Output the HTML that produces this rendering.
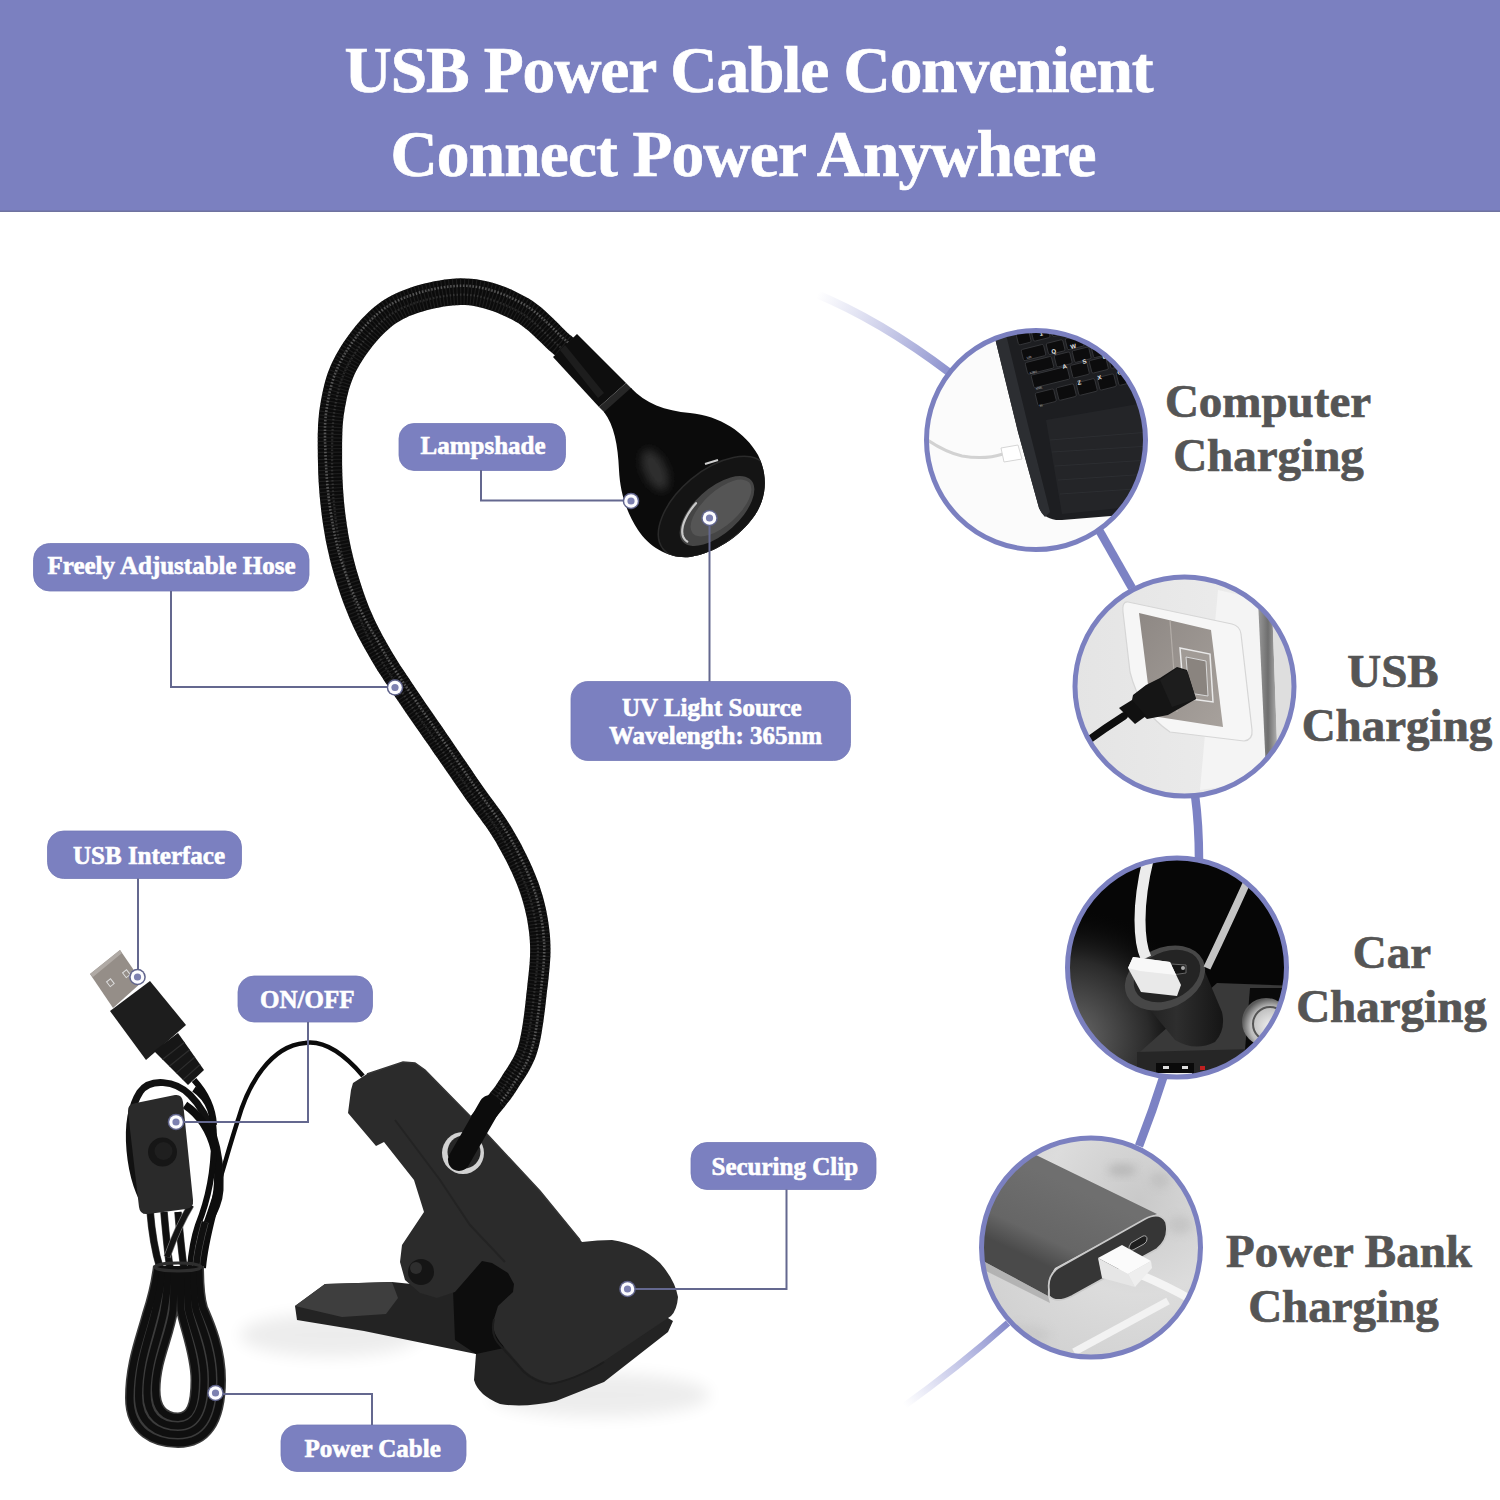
<!DOCTYPE html>
<html><head><meta charset="utf-8">
<style>
html,body{margin:0;padding:0;background:#fff;width:1500px;height:1500px;overflow:hidden}
svg{position:absolute;left:0;top:0;display:block}
.lbl{font-family:"Liberation Serif",serif;font-weight:bold;font-size:25px;fill:#fff;stroke:#fff;stroke-width:0.6px}
.rt{font-family:"Liberation Serif",serif;font-weight:bold;font-size:47px;fill:#555555;stroke:#555555;stroke-width:0.7px}
.hd{font-family:"Liberation Serif",serif;font-weight:bold;font-size:65.4px;fill:#fff;stroke:#fff;stroke-width:0.7px}
</style></head>
<body>
<svg width="1500" height="1500" viewBox="0 0 1500 1500">
<defs>
  <filter id="blur4" x="-50%" y="-50%" width="200%" height="200%"><feGaussianBlur stdDeviation="4"/></filter>
  <filter id="blur8" x="-50%" y="-50%" width="200%" height="200%"><feGaussianBlur stdDeviation="8"/></filter>
  <linearGradient id="arcTop" gradientUnits="userSpaceOnUse" x1="818" y1="294" x2="946" y2="370">
    <stop offset="0" stop-color="#9ea2d6" stop-opacity="0"/>
    <stop offset="0.35" stop-color="#9ea2d6" stop-opacity="0.35"/>
    <stop offset="1" stop-color="#8f94cf" stop-opacity="1"/>
  </linearGradient>
  <linearGradient id="arcBot" gradientUnits="userSpaceOnUse" x1="1006" y1="1325" x2="905" y2="1406">
    <stop offset="0" stop-color="#868bcb" stop-opacity="1"/>
    <stop offset="0.6" stop-color="#a5a9dc" stop-opacity="0.5"/>
    <stop offset="1" stop-color="#b0b3e0" stop-opacity="0"/>
  </linearGradient>
  <clipPath id="c1"><circle cx="1036" cy="440" r="108"/></clipPath>
  <clipPath id="c2"><circle cx="1184.5" cy="686.5" r="108"/></clipPath>
  <clipPath id="c3"><circle cx="1177" cy="967.5" r="108"/></clipPath>
  <clipPath id="c4"><circle cx="1091" cy="1247.5" r="108"/></clipPath>
</defs>

<!-- HEADER -->
<rect x="0" y="0" width="1500" height="212" fill="#7b80c0"/>
<rect x="0" y="210.5" width="1500" height="1.5" fill="#6f739f"/>
<text class="hd" x="344.5" y="92" textLength="809" lengthAdjust="spacing">USB Power Cable Convenient</text>
<text class="hd" x="390.5" y="176" textLength="706" lengthAdjust="spacing">Connect Power Anywhere</text>

<!-- RIGHT ARC CONNECTORS -->
<path d="M814 293 Q880 320 950 373" fill="none" stroke="url(#arcTop)" stroke-width="8"/>
<path d="M1099 530 L1132 588" fill="none" stroke="#7c82c4" stroke-width="8.5"/>
<path d="M1195 795 Q1199 825 1199 860" fill="none" stroke="#7c82c4" stroke-width="8.5"/>
<path d="M1164 1075 Q1153 1110 1139 1146" fill="none" stroke="#7c82c4" stroke-width="8.5"/>
<path d="M1008 1323 Q960 1366 900 1409" fill="none" stroke="url(#arcBot)" stroke-width="6.5"/>

<!-- CIRCLE 1 : computer -->
<g clip-path="url(#c1)">
  <rect x="920" y="325" width="235" height="235" fill="#fbfbfb"/>
  <path d="M993 330 L1160 330 L1160 512 L1062 520 Q1045 521 1039 508 L1018 432 Z" fill="#1d1e21"/>
  <path d="M993 330 L1005 330 L1028 425 L1050 512 L1045 517 Q1041 513 1039 508 L1018 432 Z" fill="#2c2e32"/>
  <path d="M1046 420 L1150 402 L1150 505 L1062 514 Z" fill="#2a2c30" opacity="0.55"/>
  <g stroke="#33363a" stroke-width="0.8" opacity="0.7"><path d="M1050 440 L1150 432"/><path d="M1052 452 L1150 446"/><path d="M1055 466 L1150 460"/><path d="M1058 480 L1150 474"/><path d="M1060 494 L1150 488"/></g>
  <g fill="#0c0c0d" stroke="#3a3b3e" stroke-width="0.8">
    <rect x="1016" y="334.2" width="13" height="11.5" rx="1.5" transform="rotate(-14 1015 334.2)"/>
    <rect x="1031" y="330.5" width="17" height="11.5" rx="1.5" transform="rotate(-14 1030 330.5)"/>
    <rect x="1050" y="325.8" width="17" height="11.5" rx="1.5" transform="rotate(-14 1049 325.8)"/>
    <rect x="1069" y="321.0" width="17" height="11.5" rx="1.5" transform="rotate(-14 1068 321.0)"/>
    <rect x="1088" y="316.2" width="17" height="11.5" rx="1.5" transform="rotate(-14 1087 316.2)"/>
    <rect x="1107" y="311.5" width="17" height="11.5" rx="1.5" transform="rotate(-14 1106 311.5)"/>
    <rect x="1126" y="306.8" width="17" height="11.5" rx="1.5" transform="rotate(-14 1125 306.8)"/>
    <rect x="1021" y="350.0" width="23" height="11.5" rx="1.5" transform="rotate(-14 1020 350.0)"/>
    <rect x="1046" y="343.8" width="17" height="11.5" rx="1.5" transform="rotate(-14 1045 343.8)"/>
    <rect x="1065" y="339.0" width="17" height="11.5" rx="1.5" transform="rotate(-14 1064 339.0)"/>
    <rect x="1084" y="334.2" width="17" height="11.5" rx="1.5" transform="rotate(-14 1083 334.2)"/>
    <rect x="1103" y="329.5" width="17" height="11.5" rx="1.5" transform="rotate(-14 1102 329.5)"/>
    <rect x="1122" y="324.8" width="17" height="11.5" rx="1.5" transform="rotate(-14 1121 324.8)"/>
    <rect x="1025" y="363.0" width="27" height="12" rx="1.5" transform="rotate(-14 1024 363.0)"/>
    <rect x="1054" y="355.8" width="16" height="12" rx="1.5" transform="rotate(-14 1053 355.8)"/>
    <rect x="1072" y="351.2" width="17" height="12" rx="1.5" transform="rotate(-14 1071 351.2)"/>
    <rect x="1091" y="346.5" width="17" height="12" rx="1.5" transform="rotate(-14 1090 346.5)"/>
    <rect x="1110" y="341.8" width="17" height="12" rx="1.5" transform="rotate(-14 1109 341.8)"/>
    <rect x="1129" y="337.0" width="17" height="12" rx="1.5" transform="rotate(-14 1128 337.0)"/>
    <rect x="1031" y="375.5" width="37" height="13" rx="1.5" transform="rotate(-14 1030 375.5)"/>
    <rect x="1070" y="365.8" width="17" height="13" rx="1.5" transform="rotate(-14 1069 365.8)"/>
    <rect x="1089" y="361.0" width="17" height="13" rx="1.5" transform="rotate(-14 1088 361.0)"/>
    <rect x="1108" y="356.2" width="17" height="13" rx="1.5" transform="rotate(-14 1107 356.2)"/>
    <rect x="1127" y="351.5" width="17" height="13" rx="1.5" transform="rotate(-14 1126 351.5)"/>
    <rect x="1035" y="393.5" width="19" height="13" rx="1.5" transform="rotate(-14 1034 393.5)"/>
    <rect x="1056" y="388.2" width="18" height="13" rx="1.5" transform="rotate(-14 1055 388.2)"/>
    <rect x="1076" y="383.2" width="19" height="13" rx="1.5" transform="rotate(-14 1075 383.2)"/>
    <rect x="1097" y="378.0" width="17" height="13" rx="1.5" transform="rotate(-14 1096 378.0)"/>
    <rect x="1116" y="373.2" width="17" height="13" rx="1.5" transform="rotate(-14 1115 373.2)"/>
    <rect x="1135" y="368.5" width="17" height="13" rx="1.5" transform="rotate(-14 1134 368.5)"/>
  </g>
  <g font-family="Liberation Sans" font-size="6" fill="#e6e6e6" font-weight="bold">
    <text x="1052" y="354" transform="rotate(-14 1052 354)">Q</text>
    <text x="1071" y="349" transform="rotate(-14 1071 349)">W</text>
    <text x="1063" y="369" transform="rotate(-14 1063 369)">A</text>
    <text x="1083" y="364" transform="rotate(-14 1083 364)">S</text>
    <text x="1103" y="359" transform="rotate(-14 1103 359)">D</text>
    <text x="1078" y="385" transform="rotate(-14 1078 385)">Z</text>
    <text x="1098" y="380" transform="rotate(-14 1098 380)">X</text>
    <text x="1118" y="375" transform="rotate(-14 1118 375)">C</text>
    <text x="1040" y="336" transform="rotate(-14 1040 336)">1</text>
  </g>
  <g font-family="Liberation Sans" font-size="3.5" fill="#bbb">
    <text x="1027" y="359" transform="rotate(-14 1027 359)">tab</text>
    <text x="1030" y="374" transform="rotate(-14 1030 374)">caps</text>
    <text x="1036" y="390" transform="rotate(-14 1036 390)">shift</text>
    <text x="1040" y="407" transform="rotate(-14 1040 407)">fn</text>
  </g>
  <path d="M926 439 Q945 452 962 456 Q985 460 1003 454" fill="none" stroke="#d2d2d2" stroke-width="3"/>
  <path d="M1001 448 L1018 445 L1022 459 L1004 462 Z" fill="#fff" stroke="#d5d5d5" stroke-width="1"/>
</g>
<circle cx="1036" cy="440" r="109.5" fill="none" stroke="#7b80c0" stroke-width="5"/>

<!-- CIRCLE 2 : usb wall -->
<linearGradient id="c2bg" x1="0" y1="0" x2="1" y2="0"><stop offset="0" stop-color="#e4e4e4"/><stop offset="1" stop-color="#eeeeee"/></linearGradient>
<linearGradient id="c2str" x1="0" y1="0" x2="1" y2="0"><stop offset="0" stop-color="#9a9a9a"/><stop offset="0.5" stop-color="#6e6e6e"/><stop offset="1" stop-color="#b5b5b5"/></linearGradient>
<linearGradient id="c2met" x1="0" y1="0" x2="1" y2="1"><stop offset="0" stop-color="#8e8884"/><stop offset="1" stop-color="#a7a19c"/></linearGradient>
<g clip-path="url(#c2)">
  <rect x="1070" y="570" width="235" height="235" fill="url(#c2bg)"/>
  <path d="M1218 590 L1262 600 L1270 780 L1200 790 Z" fill="#f4f4f4"/>
  <path d="M1258 600 L1272 604 L1278 770 L1266 772 Z" fill="url(#c2str)"/>
  <path d="M1272 604 L1300 610 L1300 780 L1278 770 Z" fill="#dedede"/>
  <path d="M1128 602 L1232 624 Q1240 626 1241 634 L1252 730 Q1253 740 1244 741 L1170 732 Q1140 712 1130 672 L1123 612 Q1122 601 1128 602 Z" fill="#f6f6f6" stroke="#d6d6d6" stroke-width="1.2"/>
  <path d="M1139 613 L1211 630 L1223 727 L1152 716 Z" fill="url(#c2met)"/>
  <path d="M1170 620 L1177 712" stroke="#b3ada8" stroke-width="1.2"/>
  <path d="M1180 648 L1210 654 L1213 702 L1184 698 Z" fill="#a19b96" stroke="#e9e9e9" stroke-width="1.5"/>
  <path d="M1186 657 L1206 661 L1208 696 L1189 693 Z" fill="#8a847f" stroke="#d8d8d8" stroke-width="1"/>
  <path d="M1146 685 L1160 678 L1177 667 L1187 670 L1196 699 L1168 715 L1147 719 L1131 705 L1133 695 Z" fill="#151515"/>
  <path d="M1160 680 L1177 668 L1187 671 L1196 699 L1172 707 Z" fill="#1d1d1d"/>
  <path d="M1119 708 L1132 700 L1146 716 L1135 724 Z" fill="#111"/>
  <path d="M1124 716 Q1105 728 1086 742" fill="none" stroke="#0e0e0e" stroke-width="7.5" stroke-linecap="round"/>
</g>
<circle cx="1184.5" cy="686.5" r="109.5" fill="none" stroke="#7b80c0" stroke-width="5"/>

<!-- CIRCLE 3 : car -->
<radialGradient id="carg" cx="0.05" cy="0.8" r="0.55"><stop offset="0" stop-color="#6a6a6a"/><stop offset="0.6" stop-color="#2a2a2a"/><stop offset="1" stop-color="#080808" stop-opacity="0"/></radialGradient>
<linearGradient id="cyl" x1="0" y1="0" x2="1" y2="0"><stop offset="0" stop-color="#1a1a1a"/><stop offset="0.5" stop-color="#2e2e2e"/><stop offset="1" stop-color="#151515"/></linearGradient>
<radialGradient id="lighter" cx="0.6" cy="0.6" r="0.6"><stop offset="0" stop-color="#f2f2f2"/><stop offset="0.7" stop-color="#bdbdbd"/><stop offset="1" stop-color="#5a5a5a"/></radialGradient>
<g clip-path="url(#c3)">
  <rect x="1060" y="850" width="235" height="235" fill="#060606"/>
  <rect x="1060" y="850" width="235" height="235" fill="url(#carg)"/>
  <path d="M1217 983 L1295 986 L1295 1085 L1137 1085 L1140 1052 Z" fill="#393939"/>
  <path d="M1137 1052 L1295 1048 L1295 1085 L1137 1085 Z" fill="#262626"/>
  <path d="M1250 988 L1295 988 L1295 1045 L1245 1050 Z" fill="#0a0a0a"/>
  <rect x="1156" y="1063" width="38" height="16" fill="#0a0a0a"/>
  <rect x="1163" y="1066" width="6" height="3" fill="#ddd"/><rect x="1182" y="1066" width="6" height="3" fill="#ddd"/>
  <rect x="1158" y="1073" width="34" height="4" fill="#eee"/>
  <rect x="1200" y="1066" width="5" height="4" fill="#c02020"/>
  <circle cx="1266" cy="1022" r="24" fill="url(#lighter)"/>
  <circle cx="1270" cy="1024" r="17" fill="none" stroke="#555" stroke-width="2"/>
  <path d="M1130 985 L1175 1040 Q1195 1052 1215 1042 Q1226 1030 1222 1012 L1203 967 Z" fill="url(#cyl)"/>
  <ellipse cx="1165" cy="978" rx="42" ry="30" transform="rotate(-25 1165 978)" fill="#474747"/>
  <ellipse cx="1167" cy="976" rx="35" ry="24" transform="rotate(-25 1167 976)" fill="#242424"/>
  <path d="M1171 964 L1186 965 L1186 973 L1172 975 Z" fill="#151515" stroke="#666" stroke-width="1"/>
  <circle cx="1183" cy="968" r="2" fill="#aaa"/>
  <path d="M1256 862 Q1230 920 1207 968" fill="none" stroke="#c4c4c4" stroke-width="7.5"/>
  <path d="M1150 852 Q1140 890 1140 920 Q1140 945 1146 958" fill="none" stroke="#ececec" stroke-width="11"/>
  <path d="M1128 968 L1133 957 L1170 962 L1181 985 L1177 996 L1141 992 Z" fill="#e9e9e9"/>
  <path d="M1128 968 L1133 957 L1170 962 L1176 975 L1140 971 Z" fill="#f8f8f8"/>
</g>
<circle cx="1177" cy="967.5" r="109.5" fill="none" stroke="#7b80c0" stroke-width="5"/>

<!-- CIRCLE 4 : power bank -->
<linearGradient id="pbtop" x1="0" y1="0" x2="1" y2="1"><stop offset="0" stop-color="#5e5e5e"/><stop offset="0.5" stop-color="#727272"/><stop offset="1" stop-color="#606060"/></linearGradient>
<radialGradient id="marble" cx="0.7" cy="0.3" r="0.8"><stop offset="0" stop-color="#c9c9c9"/><stop offset="0.5" stop-color="#dcdcdc"/><stop offset="1" stop-color="#d0d0d0"/></radialGradient>
<g clip-path="url(#c4)">
  <rect x="975" y="1130" width="235" height="235" fill="url(#marble)"/>
  <ellipse cx="1122" cy="1170" rx="14" ry="6" fill="#a8a8a8" opacity="0.6" filter="url(#blur4)"/>
  <ellipse cx="1160" cy="1180" rx="10" ry="8" fill="#b5b5b5" opacity="0.5" filter="url(#blur4)"/>
  <ellipse cx="1180" cy="1225" rx="12" ry="9" fill="#b8b8b8" opacity="0.5" filter="url(#blur4)"/>
  <ellipse cx="1020" cy="1335" rx="30" ry="10" fill="#c4c4c4" opacity="0.6" filter="url(#blur4)"/>
  <linearGradient id="pbg" gradientUnits="userSpaceOnUse" x1="1080" y1="1190" x2="1045" y2="1265"><stop offset="0" stop-color="#6f6f6f"/><stop offset="0.7" stop-color="#666"/><stop offset="1" stop-color="#4a4a4a"/></linearGradient>
  <path d="M1036 1155 L1157 1214 L1148 1218 L1055 1268 Q1047 1280 1048 1296 L983 1261 L975 1255 L975 1150 Z" fill="url(#pbg)"/>
  <path d="M983 1261 L1048 1296 L1050 1303 L980 1268 Z" fill="#9c9c9c" opacity="0.6"/>
  <path d="M1049 1290 Q1047 1276 1058 1268 L1145 1219 Q1160 1211 1166 1222 Q1170 1238 1157 1249 L1072 1296 Q1056 1304 1049 1296 Z" fill="#363636" stroke="#c9c9c9" stroke-width="1.8"/>
  <path d="M1131 1243 L1143 1236 Q1147 1235 1147 1239 Q1147 1242 1144 1244 L1133 1250 Q1129 1251 1129 1247 Z" fill="#1e1e1e" stroke="#a5a5a5" stroke-width="1"/>
  <path d="M1141 1275 Q1165 1285 1192 1300" stroke="#f4f4f4" stroke-width="8" fill="none"/>
  <path d="M1074 1352 L1168 1301" stroke="#f2f2f2" stroke-width="7.5" fill="none"/>
  <path d="M1098 1258 L1128 1274 L1135 1287 L1102 1278 Z" fill="#e6e6e6"/>
  <path d="M1098 1258 L1122 1245 L1151 1261 L1128 1274 Z" fill="#fbfbfb"/>
  <path d="M1128 1274 L1151 1261 L1152 1268 L1135 1287 Z" fill="#eeeeee"/>
</g>
<circle cx="1091" cy="1247.5" r="109.5" fill="none" stroke="#7b80c0" stroke-width="5"/>

<!-- RIGHT TEXT -->
<text class="rt" x="1268" y="417" text-anchor="middle">Computer</text>
<text class="rt" x="1268.5" y="471" text-anchor="middle">Charging</text>
<text class="rt" x="1393" y="687" text-anchor="middle">USB</text>
<text class="rt" x="1397" y="741" text-anchor="middle">Charging</text>
<text class="rt" x="1392" y="968" text-anchor="middle">Car</text>
<text class="rt" x="1391.5" y="1022" text-anchor="middle">Charging</text>
<text class="rt" x="1349" y="1267" text-anchor="middle">Power Bank</text>
<text class="rt" x="1343.5" y="1321.5" text-anchor="middle">Charging</text>

<!-- LAMP GOOSENECK -->
<path id="hose" d="M579.3 341.9 L578.7 341.4 L577.9 340.9 L577.3 340.4 L576.7 340.1 L576.2 339.7 L575.5 339.3 L574.8 338.7 L573.9 338.1 L572.8 337.2 L571.5 336.1 L570.0 334.9 L568.3 333.4 L566.4 331.7 L564.2 329.6 L561.6 327.0 L558.8 324.1 L555.7 321.0 L552.4 317.7 L548.9 314.4 L545.2 311.0 L541.3 307.6 L537.3 304.4 L533.0 301.3 L528.7 298.6 L524.4 296.2 L520.1 293.9 L515.7 291.7 L511.2 289.6 L506.5 287.6 L501.7 285.8 L496.7 284.1 L491.8 282.6 L486.7 281.3 L481.6 280.2 L476.4 279.3 L471.2 278.7 L466.0 278.4 L460.6 278.3 L455.3 278.5 L450.0 279.0 L444.7 279.6 L439.5 280.4 L434.3 281.3 L429.3 282.4 L424.4 283.6 L419.7 284.8 L415.2 286.1 L410.9 287.5 L406.8 288.9 L402.8 290.4 L399.0 292.0 L395.2 293.7 L391.6 295.5 L388.0 297.5 L384.6 299.6 L381.2 301.8 L377.8 304.3 L374.6 306.8 L371.3 309.6 L368.1 312.5 L364.9 315.7 L361.6 319.1 L358.4 322.7 L355.2 326.5 L352.1 330.4 L349.1 334.4 L346.2 338.5 L343.4 342.6 L340.7 346.8 L338.2 351.0 L335.9 355.1 L333.7 359.2 L331.7 363.3 L329.9 367.5 L328.3 371.6 L326.9 375.6 L325.6 379.7 L324.5 383.8 L323.5 387.9 L322.6 391.9 L321.8 395.9 L321.0 400.0 L320.4 404.0 L319.7 408.1 L319.1 412.4 L318.7 416.8 L318.3 421.2 L318.0 425.6 L317.9 430.0 L317.7 434.4 L317.7 438.8 L317.7 443.1 L317.7 447.4 L317.8 451.7 L317.8 455.9 L317.9 460.1 L318.0 464.4 L318.1 468.6 L318.2 472.9 L318.4 477.1 L318.6 481.4 L318.9 485.7 L319.2 490.0 L319.5 494.2 L319.9 498.5 L320.3 502.8 L320.8 507.1 L321.3 511.4 L321.8 515.7 L322.4 519.9 L323.0 524.1 L323.7 528.4 L324.4 532.6 L325.1 536.9 L325.9 541.2 L326.8 545.5 L327.7 549.8 L328.7 554.1 L329.7 558.5 L330.8 562.8 L332.0 567.3 L333.3 571.7 L334.6 576.3 L336.0 580.8 L337.4 585.4 L338.9 590.0 L340.4 594.5 L342.0 599.0 L343.6 603.4 L345.3 607.8 L347.0 612.1 L348.7 616.3 L350.4 620.3 L352.2 624.3 L354.0 628.2 L355.9 632.0 L357.7 635.7 L359.7 639.4 L361.6 643.0 L363.5 646.5 L365.5 650.0 L367.5 653.5 L369.5 657.0 L371.5 660.5 L373.6 664.0 L375.7 667.5 L377.8 670.9 L380.0 674.3 L382.2 677.6 L384.3 680.9 L386.6 684.2 L388.8 687.5 L391.0 690.8 L393.3 694.2 L395.6 697.6 L398.0 701.1 L400.4 704.6 L402.9 708.3 L405.4 712.0 L408.0 715.7 L410.6 719.4 L413.2 723.2 L415.8 726.9 L418.5 730.7 L421.1 734.6 L423.8 738.4 L426.5 742.2 L429.2 746.1 L431.8 750.0 L434.5 753.9 L437.3 757.8 L440.0 761.8 L442.8 765.8 L445.5 769.8 L448.3 773.8 L451.1 777.8 L453.9 781.9 L456.7 785.9 L459.5 790.0 L462.3 794.1 L465.2 798.2 L468.1 802.3 L471.1 806.3 L474.1 810.4 L477.0 814.4 L480.0 818.4 L482.8 822.4 L485.7 826.3 L488.4 830.3 L491.0 834.3 L493.5 838.3 L496.0 842.3 L498.3 846.4 L500.7 850.7 L503.0 854.9 L505.3 859.2 L507.5 863.6 L509.6 867.9 L511.7 872.3 L513.6 876.6 L515.4 880.8 L517.2 885.1 L518.8 889.2 L520.2 893.3 L521.6 897.4 L522.8 901.4 L523.9 905.4 L524.9 909.3 L525.8 913.3 L526.7 917.2 L527.4 921.1 L528.0 925.0 L528.6 928.9 L529.1 932.8 L529.5 936.8 L529.8 940.7 L530.0 944.5 L530.1 948.3 L530.1 952.1 L530.0 956.0 L529.8 959.8 L529.6 963.7 L529.2 967.7 L528.8 971.7 L528.4 975.8 L527.9 980.1 L527.4 984.4 L527.0 988.9 L526.4 993.5 L525.9 998.4 L525.4 1003.3 L524.8 1008.4 L524.2 1013.5 L523.5 1018.6 L522.8 1023.6 L522.0 1028.5 L521.2 1033.1 L520.3 1037.5 L519.4 1041.6 L518.4 1045.2 L517.4 1048.4 L516.2 1051.5 L515.0 1054.3 L513.7 1057.0 L512.3 1059.6 L510.8 1062.1 L509.3 1064.6 L507.8 1067.0 L506.2 1069.4 L504.6 1071.8 L503.0 1074.3 L501.5 1076.7 L500.1 1078.9 L498.9 1080.8 L497.8 1082.6 L496.6 1084.3 L495.5 1085.9 L494.4 1087.4 L493.2 1088.9 L492.0 1090.5 L490.7 1092.1 L489.3 1093.9 L487.8 1095.7 L486.2 1097.7 L484.5 1099.9 L482.5 1102.2 L480.4 1104.8 L478.1 1107.4 L475.8 1110.1 L473.4 1112.8 L471.2 1115.4 L469.0 1117.9 L467.0 1120.2 L465.2 1122.3 L463.6 1124.1 L462.4 1125.5 L477.6 1138.5 L478.7 1137.2 L480.2 1135.5 L482.0 1133.4 L484.1 1131.1 L486.2 1128.6 L488.6 1125.9 L490.9 1123.2 L493.3 1120.4 L495.6 1117.7 L497.9 1115.1 L499.9 1112.6 L501.8 1110.3 L503.4 1108.2 L504.9 1106.4 L506.3 1104.6 L507.7 1102.8 L509.1 1101.1 L510.4 1099.4 L511.7 1097.6 L513.0 1095.7 L514.3 1093.8 L515.7 1091.7 L517.1 1089.5 L518.5 1087.3 L519.9 1085.0 L521.4 1082.8 L522.9 1080.4 L524.6 1077.9 L526.3 1075.2 L528.0 1072.4 L529.8 1069.3 L531.5 1066.1 L533.2 1062.6 L534.8 1058.9 L536.3 1055.0 L537.6 1050.8 L538.8 1046.4 L539.9 1041.7 L540.9 1036.9 L541.8 1031.8 L542.6 1026.6 L543.4 1021.4 L544.1 1016.1 L544.8 1010.8 L545.4 1005.7 L546.0 1000.6 L546.5 995.7 L547.0 991.1 L547.6 986.7 L548.1 982.3 L548.6 978.0 L549.0 973.8 L549.4 969.5 L549.8 965.3 L550.1 961.1 L550.4 956.8 L550.5 952.5 L550.5 948.1 L550.4 943.7 L550.2 939.3 L549.9 934.9 L549.4 930.6 L548.9 926.2 L548.3 921.9 L547.6 917.6 L546.8 913.2 L545.9 908.8 L544.9 904.5 L543.8 900.0 L542.6 895.6 L541.2 891.2 L539.8 886.7 L538.2 882.1 L536.4 877.5 L534.6 872.9 L532.6 868.2 L530.5 863.6 L528.4 859.0 L526.1 854.3 L523.8 849.7 L521.5 845.1 L519.0 840.6 L516.6 836.2 L514.0 831.7 L511.4 827.3 L508.7 822.9 L505.8 818.6 L502.9 814.3 L500.0 810.1 L497.0 806.0 L494.1 801.9 L491.1 797.9 L488.2 793.9 L485.3 789.9 L482.5 785.9 L479.7 781.9 L476.9 777.9 L474.2 773.9 L471.4 769.8 L468.6 765.8 L465.9 761.7 L463.1 757.7 L460.4 753.7 L457.6 749.7 L454.9 745.7 L452.2 741.7 L449.5 737.8 L446.8 733.9 L444.2 730.0 L441.5 726.1 L438.8 722.3 L436.2 718.4 L433.5 714.6 L430.9 710.8 L428.3 707.1 L425.8 703.4 L423.3 699.7 L420.8 696.1 L418.4 692.5 L416.0 688.9 L413.7 685.4 L411.3 682.0 L409.1 678.6 L406.8 675.3 L404.7 672.1 L402.5 668.8 L400.4 665.7 L398.4 662.5 L396.4 659.3 L394.4 656.1 L392.4 652.8 L390.5 649.5 L388.5 646.1 L386.6 642.7 L384.7 639.3 L382.8 635.9 L381.0 632.5 L379.2 629.1 L377.5 625.7 L375.8 622.2 L374.1 618.7 L372.5 615.1 L370.9 611.5 L369.3 607.7 L367.8 603.9 L366.3 599.9 L364.8 595.7 L363.3 591.5 L361.9 587.2 L360.5 582.9 L359.1 578.6 L357.8 574.2 L356.5 569.9 L355.3 565.6 L354.2 561.3 L353.2 557.2 L352.2 553.1 L351.2 549.0 L350.4 544.9 L349.6 540.9 L348.8 536.9 L348.1 532.9 L347.5 528.8 L346.8 524.8 L346.3 520.8 L345.7 516.7 L345.2 512.7 L344.7 508.6 L344.3 504.6 L343.9 500.5 L343.6 496.5 L343.3 492.4 L343.0 488.4 L342.8 484.3 L342.6 480.3 L342.4 476.2 L342.3 472.1 L342.2 468.0 L342.1 464.0 L342.1 459.9 L342.1 455.7 L342.1 451.5 L342.1 447.3 L342.1 443.2 L342.2 439.1 L342.3 435.0 L342.4 431.0 L342.6 427.0 L342.9 423.1 L343.3 419.3 L343.7 415.6 L344.3 411.9 L344.9 408.1 L345.6 404.4 L346.3 400.8 L347.0 397.2 L347.9 393.7 L348.7 390.3 L349.7 387.0 L350.8 383.7 L352.0 380.4 L353.3 377.2 L354.7 374.0 L356.3 370.8 L358.1 367.4 L360.1 364.0 L362.3 360.4 L364.7 356.8 L367.2 353.3 L369.8 349.7 L372.4 346.3 L375.1 342.9 L377.9 339.7 L380.6 336.8 L383.3 334.0 L385.9 331.5 L388.5 329.2 L391.0 327.1 L393.5 325.1 L396.0 323.3 L398.5 321.7 L401.1 320.2 L403.7 318.7 L406.5 317.4 L409.3 316.1 L412.4 314.9 L415.6 313.7 L419.1 312.5 L422.8 311.4 L426.7 310.3 L430.8 309.2 L435.1 308.3 L439.4 307.4 L443.8 306.6 L448.2 306.0 L452.5 305.5 L456.8 305.2 L461.0 305.0 L465.0 305.1 L468.8 305.3 L472.5 305.8 L476.4 306.5 L480.4 307.4 L484.4 308.5 L488.4 309.7 L492.5 311.1 L496.5 312.6 L500.5 314.3 L504.4 316.0 L508.2 317.8 L511.9 319.6 L515.3 321.4 L518.5 323.3 L521.6 325.5 L524.8 327.9 L528.1 330.6 L531.4 333.5 L534.6 336.4 L537.7 339.4 L540.7 342.3 L543.7 345.2 L546.5 347.9 L549.2 350.4 L551.7 352.6 L553.9 354.4 L555.8 355.8 L557.4 357.1 L558.8 358.2 L560.1 359.1 L561.2 359.9 L562.2 360.5 L563.0 361.0 L563.6 361.4 L564.1 361.7 L564.3 361.9 L564.7 362.1 Z" fill="#0b0b0b"/>
<clipPath id="hoseclip"><path d="M579.3 341.9 L578.7 341.4 L577.9 340.9 L577.3 340.4 L576.7 340.1 L576.2 339.7 L575.5 339.3 L574.8 338.7 L573.9 338.1 L572.8 337.2 L571.5 336.1 L570.0 334.9 L568.3 333.4 L566.4 331.7 L564.2 329.6 L561.6 327.0 L558.8 324.1 L555.7 321.0 L552.4 317.7 L548.9 314.4 L545.2 311.0 L541.3 307.6 L537.3 304.4 L533.0 301.3 L528.7 298.6 L524.4 296.2 L520.1 293.9 L515.7 291.7 L511.2 289.6 L506.5 287.6 L501.7 285.8 L496.7 284.1 L491.8 282.6 L486.7 281.3 L481.6 280.2 L476.4 279.3 L471.2 278.7 L466.0 278.4 L460.6 278.3 L455.3 278.5 L450.0 279.0 L444.7 279.6 L439.5 280.4 L434.3 281.3 L429.3 282.4 L424.4 283.6 L419.7 284.8 L415.2 286.1 L410.9 287.5 L406.8 288.9 L402.8 290.4 L399.0 292.0 L395.2 293.7 L391.6 295.5 L388.0 297.5 L384.6 299.6 L381.2 301.8 L377.8 304.3 L374.6 306.8 L371.3 309.6 L368.1 312.5 L364.9 315.7 L361.6 319.1 L358.4 322.7 L355.2 326.5 L352.1 330.4 L349.1 334.4 L346.2 338.5 L343.4 342.6 L340.7 346.8 L338.2 351.0 L335.9 355.1 L333.7 359.2 L331.7 363.3 L329.9 367.5 L328.3 371.6 L326.9 375.6 L325.6 379.7 L324.5 383.8 L323.5 387.9 L322.6 391.9 L321.8 395.9 L321.0 400.0 L320.4 404.0 L319.7 408.1 L319.1 412.4 L318.7 416.8 L318.3 421.2 L318.0 425.6 L317.9 430.0 L317.7 434.4 L317.7 438.8 L317.7 443.1 L317.7 447.4 L317.8 451.7 L317.8 455.9 L317.9 460.1 L318.0 464.4 L318.1 468.6 L318.2 472.9 L318.4 477.1 L318.6 481.4 L318.9 485.7 L319.2 490.0 L319.5 494.2 L319.9 498.5 L320.3 502.8 L320.8 507.1 L321.3 511.4 L321.8 515.7 L322.4 519.9 L323.0 524.1 L323.7 528.4 L324.4 532.6 L325.1 536.9 L325.9 541.2 L326.8 545.5 L327.7 549.8 L328.7 554.1 L329.7 558.5 L330.8 562.8 L332.0 567.3 L333.3 571.7 L334.6 576.3 L336.0 580.8 L337.4 585.4 L338.9 590.0 L340.4 594.5 L342.0 599.0 L343.6 603.4 L345.3 607.8 L347.0 612.1 L348.7 616.3 L350.4 620.3 L352.2 624.3 L354.0 628.2 L355.9 632.0 L357.7 635.7 L359.7 639.4 L361.6 643.0 L363.5 646.5 L365.5 650.0 L367.5 653.5 L369.5 657.0 L371.5 660.5 L373.6 664.0 L375.7 667.5 L377.8 670.9 L380.0 674.3 L382.2 677.6 L384.3 680.9 L386.6 684.2 L388.8 687.5 L391.0 690.8 L393.3 694.2 L395.6 697.6 L398.0 701.1 L400.4 704.6 L402.9 708.3 L405.4 712.0 L408.0 715.7 L410.6 719.4 L413.2 723.2 L415.8 726.9 L418.5 730.7 L421.1 734.6 L423.8 738.4 L426.5 742.2 L429.2 746.1 L431.8 750.0 L434.5 753.9 L437.3 757.8 L440.0 761.8 L442.8 765.8 L445.5 769.8 L448.3 773.8 L451.1 777.8 L453.9 781.9 L456.7 785.9 L459.5 790.0 L462.3 794.1 L465.2 798.2 L468.1 802.3 L471.1 806.3 L474.1 810.4 L477.0 814.4 L480.0 818.4 L482.8 822.4 L485.7 826.3 L488.4 830.3 L491.0 834.3 L493.5 838.3 L496.0 842.3 L498.3 846.4 L500.7 850.7 L503.0 854.9 L505.3 859.2 L507.5 863.6 L509.6 867.9 L511.7 872.3 L513.6 876.6 L515.4 880.8 L517.2 885.1 L518.8 889.2 L520.2 893.3 L521.6 897.4 L522.8 901.4 L523.9 905.4 L524.9 909.3 L525.8 913.3 L526.7 917.2 L527.4 921.1 L528.0 925.0 L528.6 928.9 L529.1 932.8 L529.5 936.8 L529.8 940.7 L530.0 944.5 L530.1 948.3 L530.1 952.1 L530.0 956.0 L529.8 959.8 L529.6 963.7 L529.2 967.7 L528.8 971.7 L528.4 975.8 L527.9 980.1 L527.4 984.4 L527.0 988.9 L526.4 993.5 L525.9 998.4 L525.4 1003.3 L524.8 1008.4 L524.2 1013.5 L523.5 1018.6 L522.8 1023.6 L522.0 1028.5 L521.2 1033.1 L520.3 1037.5 L519.4 1041.6 L518.4 1045.2 L517.4 1048.4 L516.2 1051.5 L515.0 1054.3 L513.7 1057.0 L512.3 1059.6 L510.8 1062.1 L509.3 1064.6 L507.8 1067.0 L506.2 1069.4 L504.6 1071.8 L503.0 1074.3 L501.5 1076.7 L500.1 1078.9 L498.9 1080.8 L497.8 1082.6 L496.6 1084.3 L495.5 1085.9 L494.4 1087.4 L493.2 1088.9 L492.0 1090.5 L490.7 1092.1 L489.3 1093.9 L487.8 1095.7 L486.2 1097.7 L484.5 1099.9 L482.5 1102.2 L480.4 1104.8 L478.1 1107.4 L475.8 1110.1 L473.4 1112.8 L471.2 1115.4 L469.0 1117.9 L467.0 1120.2 L465.2 1122.3 L463.6 1124.1 L462.4 1125.5 L477.6 1138.5 L478.7 1137.2 L480.2 1135.5 L482.0 1133.4 L484.1 1131.1 L486.2 1128.6 L488.6 1125.9 L490.9 1123.2 L493.3 1120.4 L495.6 1117.7 L497.9 1115.1 L499.9 1112.6 L501.8 1110.3 L503.4 1108.2 L504.9 1106.4 L506.3 1104.6 L507.7 1102.8 L509.1 1101.1 L510.4 1099.4 L511.7 1097.6 L513.0 1095.7 L514.3 1093.8 L515.7 1091.7 L517.1 1089.5 L518.5 1087.3 L519.9 1085.0 L521.4 1082.8 L522.9 1080.4 L524.6 1077.9 L526.3 1075.2 L528.0 1072.4 L529.8 1069.3 L531.5 1066.1 L533.2 1062.6 L534.8 1058.9 L536.3 1055.0 L537.6 1050.8 L538.8 1046.4 L539.9 1041.7 L540.9 1036.9 L541.8 1031.8 L542.6 1026.6 L543.4 1021.4 L544.1 1016.1 L544.8 1010.8 L545.4 1005.7 L546.0 1000.6 L546.5 995.7 L547.0 991.1 L547.6 986.7 L548.1 982.3 L548.6 978.0 L549.0 973.8 L549.4 969.5 L549.8 965.3 L550.1 961.1 L550.4 956.8 L550.5 952.5 L550.5 948.1 L550.4 943.7 L550.2 939.3 L549.9 934.9 L549.4 930.6 L548.9 926.2 L548.3 921.9 L547.6 917.6 L546.8 913.2 L545.9 908.8 L544.9 904.5 L543.8 900.0 L542.6 895.6 L541.2 891.2 L539.8 886.7 L538.2 882.1 L536.4 877.5 L534.6 872.9 L532.6 868.2 L530.5 863.6 L528.4 859.0 L526.1 854.3 L523.8 849.7 L521.5 845.1 L519.0 840.6 L516.6 836.2 L514.0 831.7 L511.4 827.3 L508.7 822.9 L505.8 818.6 L502.9 814.3 L500.0 810.1 L497.0 806.0 L494.1 801.9 L491.1 797.9 L488.2 793.9 L485.3 789.9 L482.5 785.9 L479.7 781.9 L476.9 777.9 L474.2 773.9 L471.4 769.8 L468.6 765.8 L465.9 761.7 L463.1 757.7 L460.4 753.7 L457.6 749.7 L454.9 745.7 L452.2 741.7 L449.5 737.8 L446.8 733.9 L444.2 730.0 L441.5 726.1 L438.8 722.3 L436.2 718.4 L433.5 714.6 L430.9 710.8 L428.3 707.1 L425.8 703.4 L423.3 699.7 L420.8 696.1 L418.4 692.5 L416.0 688.9 L413.7 685.4 L411.3 682.0 L409.1 678.6 L406.8 675.3 L404.7 672.1 L402.5 668.8 L400.4 665.7 L398.4 662.5 L396.4 659.3 L394.4 656.1 L392.4 652.8 L390.5 649.5 L388.5 646.1 L386.6 642.7 L384.7 639.3 L382.8 635.9 L381.0 632.5 L379.2 629.1 L377.5 625.7 L375.8 622.2 L374.1 618.7 L372.5 615.1 L370.9 611.5 L369.3 607.7 L367.8 603.9 L366.3 599.9 L364.8 595.7 L363.3 591.5 L361.9 587.2 L360.5 582.9 L359.1 578.6 L357.8 574.2 L356.5 569.9 L355.3 565.6 L354.2 561.3 L353.2 557.2 L352.2 553.1 L351.2 549.0 L350.4 544.9 L349.6 540.9 L348.8 536.9 L348.1 532.9 L347.5 528.8 L346.8 524.8 L346.3 520.8 L345.7 516.7 L345.2 512.7 L344.7 508.6 L344.3 504.6 L343.9 500.5 L343.6 496.5 L343.3 492.4 L343.0 488.4 L342.8 484.3 L342.6 480.3 L342.4 476.2 L342.3 472.1 L342.2 468.0 L342.1 464.0 L342.1 459.9 L342.1 455.7 L342.1 451.5 L342.1 447.3 L342.1 443.2 L342.2 439.1 L342.3 435.0 L342.4 431.0 L342.6 427.0 L342.9 423.1 L343.3 419.3 L343.7 415.6 L344.3 411.9 L344.9 408.1 L345.6 404.4 L346.3 400.8 L347.0 397.2 L347.9 393.7 L348.7 390.3 L349.7 387.0 L350.8 383.7 L352.0 380.4 L353.3 377.2 L354.7 374.0 L356.3 370.8 L358.1 367.4 L360.1 364.0 L362.3 360.4 L364.7 356.8 L367.2 353.3 L369.8 349.7 L372.4 346.3 L375.1 342.9 L377.9 339.7 L380.6 336.8 L383.3 334.0 L385.9 331.5 L388.5 329.2 L391.0 327.1 L393.5 325.1 L396.0 323.3 L398.5 321.7 L401.1 320.2 L403.7 318.7 L406.5 317.4 L409.3 316.1 L412.4 314.9 L415.6 313.7 L419.1 312.5 L422.8 311.4 L426.7 310.3 L430.8 309.2 L435.1 308.3 L439.4 307.4 L443.8 306.6 L448.2 306.0 L452.5 305.5 L456.8 305.2 L461.0 305.0 L465.0 305.1 L468.8 305.3 L472.5 305.8 L476.4 306.5 L480.4 307.4 L484.4 308.5 L488.4 309.7 L492.5 311.1 L496.5 312.6 L500.5 314.3 L504.4 316.0 L508.2 317.8 L511.9 319.6 L515.3 321.4 L518.5 323.3 L521.6 325.5 L524.8 327.9 L528.1 330.6 L531.4 333.5 L534.6 336.4 L537.7 339.4 L540.7 342.3 L543.7 345.2 L546.5 347.9 L549.2 350.4 L551.7 352.6 L553.9 354.4 L555.8 355.8 L557.4 357.1 L558.8 358.2 L560.1 359.1 L561.2 359.9 L562.2 360.5 L563.0 361.0 L563.6 361.4 L564.1 361.7 L564.3 361.9 L564.7 362.1 Z"/></clipPath>
<g clip-path="url(#hoseclip)">
<path d="M572.0 352.0 C570.0 350.5 568.3 350.0 560.0 343.0 C551.7 336.0 537.0 318.5 522.0 310.0 C507.0 301.5 487.8 293.7 470.0 292.0 C452.2 290.3 430.5 295.0 415.0 300.0 C399.5 305.0 388.7 311.2 377.0 322.0 C365.3 332.8 352.5 350.3 345.0 365.0 C337.5 379.7 334.5 394.2 332.0 410.0 C329.5 425.8 329.8 443.3 330.0 460.0 C330.2 476.7 331.0 493.3 333.0 510.0 C335.0 526.7 337.7 543.0 342.0 560.0 C346.3 577.0 352.5 596.2 359.0 612.0 C365.5 627.8 373.0 641.2 381.0 655.0 C389.0 668.8 397.5 680.8 407.0 695.0 C416.5 709.2 427.3 724.5 438.0 740.0 C448.7 755.5 459.8 771.8 471.0 788.0 C482.2 804.2 495.2 820.0 505.0 837.0 C514.8 854.0 524.2 872.8 530.0 890.0 C535.8 907.2 538.8 923.3 540.0 940.0 C541.2 956.7 539.0 972.0 537.0 990.0 C535.0 1008.0 532.5 1032.7 528.0 1048.0 C523.5 1063.3 515.7 1072.7 510.0 1082.0 C504.3 1091.3 500.7 1095.7 494.0 1104.0 C487.3 1112.3 474.0 1127.3 470.0 1132.0" fill="none" stroke="#333" stroke-width="30" stroke-dasharray="1.2 2.4" opacity="0.45"/>
<path d="M573.5 346.3 L572.9 345.9 L572.2 345.5 L571.5 345.0 L570.7 344.4 L569.7 343.7 L568.5 342.8 L567.1 341.7 L565.5 340.3 L563.6 338.8 L561.6 336.9 L559.2 334.7 L556.6 332.1 L553.8 329.2 L550.7 326.1 L547.4 323.0 L544.0 319.7 L540.4 316.5 L536.7 313.3 L532.9 310.3 L528.9 307.5 L524.9 305.0 L520.9 302.7 L516.8 300.6 L512.5 298.5 L508.2 296.5 L503.7 294.6 L499.1 292.9 L494.4 291.3 L489.7 289.8 L484.9 288.6 L480.1 287.5 L475.3 286.7 L470.5 286.1 L465.7 285.8 L460.7 285.8 L455.7 286.0 L450.7 286.4 L445.7 287.0 L440.7 287.7 L435.8 288.6 L430.9 289.6 L426.2 290.8 L421.7 291.9 L417.3 293.2 L413.2 294.5 L409.3 295.8 L405.5 297.2 L401.9 298.7 L398.4 300.3 L395.0 302.0 L391.7 303.8 L388.5 305.8 L385.3 307.9 L382.2 310.1 L379.2 312.5 L376.1 315.1 L373.1 317.8 L370.0 320.8 L366.9 324.0 L363.8 327.5 L360.8 331.1 L357.8 334.8 L354.9 338.7 L352.1 342.6 L349.4 346.6 L346.8 350.6 L344.3 354.6 L342.1 358.6 L340.0 362.5 L338.2 366.3 L336.5 370.2 L335.0 374.0 L333.6 377.9 L332.4 381.8 L331.3 385.6 L330.3 389.5 L329.4 393.4 L328.6 397.3 L327.9 401.2 L327.2 405.2 L326.6 409.2 L326.0 413.3 L325.6 417.5 L325.2 421.7 L325.0 426.0 L325.0 430.3 L325.0 434.6 L325.0 438.8 L325.1 443.1 L325.3 447.4 L325.4 451.6 L325.6 455.9 L325.8 460.0 L326.0 464.2 L326.2 468.4 L326.5 472.6 L326.7 476.8 L327.1 481.0 L327.4 485.2 L327.8 489.4 L328.3 493.6 L328.7 497.8 L329.2 501.9 L329.8 506.1 L330.4 510.3 L331.1 514.5 L331.7 518.6 L332.5 522.8 L333.2 526.9 L334.0 531.0 L334.8 535.2 L335.7 539.3 L336.7 543.5 L337.6 547.7 L338.7 551.8 L339.8 556.0 L341.1 560.2 L342.5 564.5 L343.9 568.8 L345.4 573.1 L347.0 577.5 L348.7 581.9 L350.3 586.2 L352.1 590.6 L353.8 594.9 L355.6 599.1 L357.4 603.2 L359.2 607.2 L361.1 611.2 L362.9 614.9 L364.8 618.6 L366.7 622.2 L368.7 625.7 L370.6 629.2 L372.6 632.6 L374.7 635.9 L376.7 639.3 L378.6 642.7 L380.5 646.2 L382.4 649.6 L384.4 653.0 L386.4 656.4 L388.4 659.7 L390.5 663.0 L392.5 666.2 L394.6 669.5 L396.7 672.7 L398.9 675.9 L401.1 679.2 L403.3 682.5 L405.6 685.9 L407.9 689.3 L410.3 692.8 L412.7 696.3 L415.1 699.9 L417.6 703.6 L420.1 707.3 L422.7 711.0 L425.3 714.7 L427.9 718.5 L430.6 722.3 L433.2 726.2 L435.9 730.0 L438.6 733.9 L441.3 737.8 L443.9 741.7 L446.6 745.6 L449.3 749.5 L452.1 753.5 L454.8 757.5 L457.6 761.5 L460.3 765.5 L463.1 769.6 L465.9 773.6 L468.7 777.7 L471.5 781.7 L474.2 785.7 L477.1 789.8 L479.9 793.7 L482.8 797.8 L485.8 801.8 L488.7 805.8 L491.7 809.9 L494.6 814.0 L497.5 818.1 L500.4 822.2 L503.2 826.5 L505.8 830.7 L508.4 835.0 L510.9 839.4 L513.3 843.7 L515.7 848.2 L518.1 852.7 L520.3 857.2 L522.6 861.7 L524.7 866.3 L526.7 870.8 L528.7 875.4 L530.5 879.9 L532.2 884.3 L533.7 888.7 L535.2 893.1 L536.5 897.4 L537.7 901.7 L538.8 906.0 L539.7 910.2 L540.6 914.4 L541.4 918.6 L542.1 922.9 L542.7 927.1 L543.2 931.3 L543.6 935.5 L543.9 939.7 L544.2 944.0 L544.3 948.2 L544.2 952.4 L544.1 956.5 L543.9 960.7 L543.6 964.8 L543.2 969.0 L542.8 973.1 L542.4 977.4 L541.9 981.6 L541.4 986.0 L540.9 990.4 L540.4 995.1 L539.9 999.9 L539.3 1005.0 L538.7 1010.1 L538.0 1015.3 L537.3 1020.5 L536.6 1025.7 L535.8 1030.8 L534.9 1035.7 L533.9 1040.5 L532.9 1044.9 L531.8 1049.1 L530.5 1053.0 L529.1 1056.7 L527.7 1060.1 L526.1 1063.3 L524.5 1066.4 L522.8 1069.3 L521.2 1072.0 L519.5 1074.6 L517.9 1077.1 L516.3 1079.5 L514.8 1081.8 L513.4 1084.1 L512.0 1086.3 L510.6 1088.4 L509.3 1090.4 L508.1 1092.3 L506.8 1094.0 L505.6 1095.7 L504.3 1097.4 L503.0 1099.1 L501.6 1100.8 L500.2 1102.6 L498.7 1104.5 L497.1 1106.5 L495.3 1108.7 L493.2 1111.2 L491.0 1113.8 L488.7 1116.5" fill="none" stroke="#8a8a8a" stroke-width="2.6" stroke-dasharray="1.6 1.6" opacity="0.55"/>
<path d="M568.8 353.5 L568.2 353.1 L567.5 352.6 L566.7 352.0 L565.7 351.3 L564.6 350.5 L563.3 349.5 L561.8 348.3 L560.0 346.9 L558.0 345.3 L555.7 343.3 L553.2 340.9 L550.5 338.2 L547.6 335.4 L544.6 332.4 L541.4 329.3 L538.1 326.1 L534.7 323.1 L531.2 320.1 L527.6 317.4 L524.1 314.9 L520.5 312.7 L516.7 310.6 L512.8 308.6 L508.7 306.6 L504.6 304.8 L500.3 303.0 L496.0 301.3 L491.6 299.8 L487.2 298.5 L482.8 297.3 L478.4 296.3 L474.0 295.5 L469.7 295.0 L465.4 294.7 L460.9 294.7 L456.2 294.8 L451.5 295.2 L446.8 295.7 L442.1 296.4 L437.4 297.2 L432.8 298.2 L428.3 299.2 L424.0 300.4 L419.8 301.5 L415.9 302.7 L412.2 304.0 L408.7 305.3 L405.3 306.6 L402.1 308.1 L399.0 309.6 L396.0 311.3 L393.1 313.0 L390.2 314.9 L387.4 316.9 L384.6 319.1 L381.7 321.5 L378.9 324.0 L376.0 326.8 L373.1 329.8 L370.2 333.0 L367.3 336.4 L364.4 340.0 L361.6 343.7 L358.9 347.4 L356.3 351.2 L353.8 355.0 L351.4 358.8 L349.3 362.6 L347.3 366.2 L345.6 369.8 L344.0 373.3 L342.6 376.9 L341.3 380.5 L340.1 384.1 L339.1 387.7 L338.2 391.4 L337.3 395.1 L336.5 398.8 L335.8 402.6 L335.1 406.5 L334.5 410.4 L333.9 414.3 L333.4 418.3 L333.1 422.3 L332.8 426.4 L332.5 430.6 L332.3 434.7 L332.2 438.9 L332.2 443.2 L332.1 447.4 L332.1 451.6 L332.1 455.8 L332.1 460.0 L332.1 464.1 L332.1 468.3 L332.2 472.4 L332.3 476.6 L332.5 480.7 L332.7 484.9 L332.9 489.0 L333.1 493.2 L333.4 497.4 L333.8 501.5 L334.2 505.7 L334.6 509.8 L335.1 514.0 L335.6 518.1 L336.1 522.2 L336.7 526.4 L337.3 530.5 L338.0 534.6 L338.7 538.8 L339.4 542.9 L340.3 547.1 L341.1 551.3 L342.1 555.5 L343.0 559.8 L343.9 564.1 L344.9 568.5 L346.0 573.0 L347.1 577.5 L348.3 582.0 L349.5 586.5 L350.8 591.0 L352.1 595.5 L353.5 599.9 L354.9 604.2 L356.3 608.4 L357.7 612.5 L359.2 616.5 L360.8 620.4 L362.4 624.3 L364.0 628.0 L365.6 631.7 L367.3 635.4 L369.1 639.0 L370.9 642.5 L372.8 646.0 L374.8 649.4 L376.7 652.9 L378.7 656.3 L380.8 659.8 L382.8 663.2 L384.9 666.5 L387.0 669.8 L389.1 673.1 L391.3 676.3 L393.4 679.6 L395.6 682.9 L397.9 686.2 L400.2 689.5 L402.5 693.0 L404.8 696.5 L407.2 700.0 L409.7 703.6 L412.2 707.3 L414.8 711.0 L417.3 714.7 L419.9 718.5 L422.6 722.3 L425.2 726.1 L427.9 729.9 L430.5 733.7 L433.2 737.6 L435.9 741.5 L438.6 745.3 L441.3 749.3 L444.0 753.2 L446.7 757.2 L449.4 761.2 L452.2 765.2 L455.0 769.2 L457.7 773.3 L460.5 777.3 L463.3 781.4 L466.1 785.4 L468.9 789.5 L471.8 793.5 L474.7 797.5 L477.6 801.6 L480.5 805.6 L483.5 809.6 L486.5 813.7 L489.4 817.7 L492.2 821.8 L495.0 825.9 L497.7 830.0 L500.3 834.1 L502.8 838.3 L505.3 842.5 L507.7 846.8 L510.0 851.2 L512.3 855.6 L514.6 860.1 L516.7 864.5 L518.8 869.0 L520.8 873.4 L522.7 877.8 L524.5 882.2 L526.1 886.5 L527.7 890.8 L529.0 895.0 L530.3 899.2 L531.5 903.3 L532.5 907.5 L533.5 911.6 L534.3 915.7 L535.1 919.7 L535.8 923.8 L536.3 927.9 L536.8 932.0 L537.2 936.1 L537.6 940.2 L537.8 944.2 L537.9 948.3 L537.9 952.3 L537.7 956.3 L537.5 960.3 L537.3 964.3 L536.9 968.4 L536.5 972.5 L536.1 976.7 L535.6 980.9 L535.1 985.3 L534.6 989.7 L534.1 994.4 L533.5 999.2 L533.0 1004.2 L532.4 1009.3 L531.7 1014.5 L531.1 1019.7 L530.3 1024.8 L529.5 1029.7 L528.7 1034.6 L527.7 1039.1 L526.8 1043.4 L525.7 1047.3 L524.5 1050.9 L523.3 1054.3 L521.9 1057.5 L520.5 1060.5 L518.9 1063.3 L517.4 1066.0 L515.8 1068.6 L514.2 1071.1 L512.6 1073.6 L511.0 1076.0 L509.4 1078.4 L508.0 1080.7 L506.6 1083.0 L505.3 1085.0 L504.1 1086.9 L502.8 1088.6 L501.7 1090.3 L500.5 1091.9 L499.2 1093.6 L498.0 1095.2 L496.6 1096.9 L495.2 1098.6 L493.7 1100.5 L492.1 1102.5 L490.3 1104.7 L488.3 1107.1 L486.2 1109.7 L483.9 1112.4" fill="none" stroke="#5a5a5a" stroke-width="2.2" stroke-dasharray="1.6 1.8" opacity="0.4"/>
</g>

<!-- LAMP HEAD -->
<g>
  <path d="M577 334 L553 357 L599 407 L626 383 Z" fill="#0e0e0e"/>
  <path d="M565 345 L560 350 L598 398 L604 393 Z" fill="#1d1d1d"/>
  <path d="M599 407 L626 383 L632 389 L605 413 Z" fill="#262626"/>
  <path id="bulb" d="M604 412 L631 388 C645 403 665 411 690 413 C720 416 745 432 758 455 C768 475 767 497 755 515 C740 537 715 553 690 557 C670 559 650 548 638 530 C625 510 620 490 619 470 C618 445 614 425 604 412 Z" fill="#0b0b0b"/>
  <clipPath id="bulbclip"><path d="M604 412 L631 388 C645 403 665 411 690 413 C720 416 745 432 758 455 C768 475 767 497 755 515 C740 537 715 553 690 557 C670 559 650 548 638 530 C625 510 620 490 619 470 C618 445 614 425 604 412 Z"/></clipPath>
  <g clip-path="url(#bulbclip)">
    <ellipse cx="655" cy="470" rx="11" ry="22" transform="rotate(-25 655 470)" fill="#2e2e2e" filter="url(#blur4)"/>
    <ellipse cx="714" cy="507" rx="66" ry="36" transform="rotate(-40 714 507)" fill="#141414" stroke="#2a2a2a" stroke-width="1.5"/>
    <ellipse cx="717" cy="511" rx="46" ry="22.5" transform="rotate(-42 717 511)" fill="#454545"/>
    <ellipse cx="721" cy="508" rx="38" ry="17" transform="rotate(-42 721 508)" fill="#555"/>
    <path d="M687.3 541.6 L685.5 540.3 L684.2 538.6 L683.1 536.7 L682.5 534.5 L682.2 532.0 L682.3 529.3 L682.8 526.3 L683.7 523.2 L684.9 520.0 L686.5 516.7 L688.4 513.3 L690.7 509.9 L693.2 506.5 L696.0 503.2" fill="none" stroke="#e0e0e0" stroke-width="2.2" opacity="0.85" stroke-linecap="round"/>
    <path d="M705 464 L718 460" stroke="#cfcfcf" stroke-width="2"/>
  </g>
</g>

<!-- CLIP -->
<g>
  <ellipse cx="330" cy="1335" rx="90" ry="22" fill="#000" opacity="0.07" filter="url(#blur8)"/>
  <ellipse cx="600" cy="1395" rx="110" ry="22" fill="#000" opacity="0.07" filter="url(#blur8)"/>
  <path d="M295 1306 L325 1284 L392 1282 L470 1290 L500 1300 L668 1318 L673 1321 L668 1332 L604 1382 L556 1401 Q525 1408 500 1404 Q478 1395 474 1380 L476 1354 L364 1331 L297 1320 Z" fill="#232323"/>
  <path d="M295 1306 L325 1284 L392 1282 L398 1298 L386 1314 L342 1317 Z" fill="#3e3e3e"/>
  <path d="M452 1265 L470 1250 L500 1255 L520 1275 L525 1300 L502 1312 L496 1326 L504 1348 L476 1354 L455 1340 Z" fill="#0d0d0d"/>
  <path d="M351 1090 L353 1083 L367 1074 L403 1062 L415 1063 L425 1070 L473 1119 L540 1191 L582 1242 Q598 1240 612 1240 Q640 1244 660 1263 Q675 1280 678 1297 Q677 1310 671 1316 L604 1361 Q575 1380 550 1383 Q535 1380 524 1370 L500 1342 Q490 1328 494 1319 L498 1306 L513 1292 L514 1284 L508 1273 L492 1263 L482 1261 L455 1292 L437 1298 L420 1293 L405 1280 L400 1262 L402 1245 L412 1230 L424 1212 L414 1180 L384 1142 L376 1146 L348 1113 Z" fill="#2b2b2b"/>
  <path d="M494 1319 Q490 1335 500 1345 L524 1372 Q535 1382 550 1384 Q575 1380 604 1362" fill="none" stroke="#1d1d1d" stroke-width="2"/>
  <path d="M367 1074 L403 1062 L415 1063 L425 1070 L473 1119 L540 1191 L580 1240" fill="none" stroke="#353535" stroke-width="1.5"/>
  <path d="M395 1120 L440 1180 L470 1225 L505 1262" fill="none" stroke="#232323" stroke-width="2"/>
  <circle cx="421" cy="1272" r="13" fill="#151515"/>
  <circle cx="416" cy="1268" r="6" fill="#2e2e2e"/>
  <circle cx="463" cy="1153" r="21" fill="#d2d2d2"/>
  <circle cx="464" cy="1152" r="16.5" fill="#262626"/>
  <path d="M490 1106 L459 1160" stroke="#0c0c0c" stroke-width="22" stroke-linecap="round"/>
</g>

<!-- CABLES -->
<path d="M363 1076 C345 1055 325 1040 305 1043 C270 1046 248 1085 238 1120 C228 1150 218 1190 205 1225 C198 1242 196 1255 196 1268" fill="none" stroke="#0b0b0b" stroke-width="4.5"/>
<path d="M150 1212 C128 1180 122 1120 140 1092 C150 1078 175 1080 190 1095 C210 1115 222 1150 220 1190 C219 1205 212 1215 206 1228 C202 1242 200 1255 199 1268" fill="none" stroke="#111" stroke-width="7"/>
<path d="M185 1105 C215 1125 226 1170 212 1215 C207 1235 203 1255 202 1268" fill="none" stroke="#0d0d0d" stroke-width="8"/>
<path d="M194 1089 C210 1100 214 1115 214 1140 C214 1170 208 1200 198 1225 C193 1240 191 1255 190 1268" fill="none" stroke="#0d0d0d" stroke-width="6"/>
<g fill="none">
<path d="M150 1210 C152 1235 156 1255 160 1268" stroke="#555" stroke-width="7.6"/><path d="M150 1210 C152 1235 156 1255 160 1268" stroke="#101010" stroke-width="6.5"/>
<path d="M164 1212 C166 1235 168 1255 170 1268" stroke="#555" stroke-width="7.6"/><path d="M164 1212 C166 1235 168 1255 170 1268" stroke="#101010" stroke-width="6.5"/>
<path d="M178 1212 C180 1235 182 1255 184 1268" stroke="#555" stroke-width="7.6"/><path d="M178 1212 C180 1235 182 1255 184 1268" stroke="#101010" stroke-width="6.5"/>
<path d="M205 1222 C200 1240 197 1255 196 1268" stroke="#555" stroke-width="7.6"/><path d="M205 1222 C200 1240 197 1255 196 1268" stroke="#101010" stroke-width="6.5"/>
<path d="M167 1257 C175 1235 183 1218 191 1205" stroke="#777" stroke-width="7"/><path d="M167 1257 C175 1235 183 1218 191 1205" stroke="#141414" stroke-width="5.5"/>
</g>
<g fill="none">
  <path d="M158 1266 C155 1290 151 1302 147 1314 C140 1340 130 1364 130 1398 C130 1432 155 1443 178 1443 C206 1443 221 1422 221 1380 C221 1348 209 1322 203 1308 C200 1298 199 1288 199 1266" stroke="#3c3c3c" stroke-width="10"/>
  <path d="M163 1266 C161 1290 158 1300 155 1312 C149 1338 138.5 1362 138.5 1396 C138.5 1424 158 1434.5 178 1434.5 C201 1434.5 212.5 1416 212.5 1380 C212.5 1350 201 1325 196 1310 C194 1300 193 1290 193 1266" stroke="#3c3c3c" stroke-width="10"/>
  <path d="M168.5 1266 C167.5 1290 166 1300 164 1311 C159.5 1336 147 1361 147 1393 C147 1417 161 1426 178 1426 C196 1426 204 1410 204 1380 C204 1352 192.5 1328 188.5 1310 C187.5 1300 187 1290 187 1266" stroke="#3c3c3c" stroke-width="10"/>
  <path d="M174 1266 C174 1290 173.6 1300 173 1310 C170 1335 155.5 1360 155.5 1390 C155.5 1410 165 1417.5 178 1417.5 C191 1417.5 195.5 1405 195.5 1380 C195.5 1355 185 1330 181 1310 C180.5 1300 180.5 1290 180.5 1266" stroke="#3c3c3c" stroke-width="10"/>
  <path d="M158 1266 C155 1290 151 1302 147 1314 C140 1340 130 1364 130 1398 C130 1432 155 1443 178 1443 C206 1443 221 1422 221 1380 C221 1348 209 1322 203 1308 C200 1298 199 1288 199 1266" stroke="#0f0f0f" stroke-width="7"/>
  <path d="M163 1266 C161 1290 158 1300 155 1312 C149 1338 138.5 1362 138.5 1396 C138.5 1424 158 1434.5 178 1434.5 C201 1434.5 212.5 1416 212.5 1380 C212.5 1350 201 1325 196 1310 C194 1300 193 1290 193 1266" stroke="#0f0f0f" stroke-width="7"/>
  <path d="M168.5 1266 C167.5 1290 166 1300 164 1311 C159.5 1336 147 1361 147 1393 C147 1417 161 1426 178 1426 C196 1426 204 1410 204 1380 C204 1352 192.5 1328 188.5 1310 C187.5 1300 187 1290 187 1266" stroke="#0f0f0f" stroke-width="7"/>
  <path d="M174 1266 C174 1290 173.6 1300 173 1310 C170 1335 155.5 1360 155.5 1390 C155.5 1410 165 1417.5 178 1417.5 C191 1417.5 195.5 1405 195.5 1380 C195.5 1355 185 1330 181 1310 C180.5 1300 180.5 1290 180.5 1266" stroke="#0f0f0f" stroke-width="7"/>
</g>
<ellipse cx="178" cy="1267" rx="23" ry="4" fill="none" stroke="#2e2e2e" stroke-width="3"/>

<!-- USB PLUG -->
<path d="M90 974 L120 950 L142 982 L113 1008 Z" fill="#958e88"/>
<path d="M90 974 L120 950 L122 953 L93 977 Z" fill="#b0aaa5"/>
<rect x="108" y="980" width="5" height="6" fill="none" stroke="#ddd" stroke-width="1" transform="rotate(-38 110 983)"/>
<rect x="124" y="971" width="5" height="6" fill="none" stroke="#ddd" stroke-width="1" transform="rotate(-38 126 974)"/>
<path d="M110 1011 L150 981 L186 1025 L146 1060 Z" fill="#1d1d1d"/>
<path d="M154 1051 L178 1033 L204 1070 L188 1085 Z" fill="#161616"/>
<g stroke="#2e2e2e" stroke-width="1.2"><path d="M162.5 1059.5 L184.5 1042.3"/><path d="M169.3 1066.3 L189.7 1049.7"/><path d="M176.1 1073.1 L194.9 1057"/><path d="M182.9 1079.9 L200.1 1064.5"/></g>
<path d="M194 1080 C205 1092 213 1108 214 1125" fill="none" stroke="#0d0d0d" stroke-width="6"/>

<!-- SWITCH -->
<path d="M136 1103 L175 1095 Q182 1094 183 1102 L193 1200 Q194 1208 186 1209 L148 1214 Q140 1215 139 1207 L128 1112 Q127 1104 136 1103 Z" fill="#2a2a2a"/>
<circle cx="162.5" cy="1152" r="14.5" fill="#161616"/>
<circle cx="163.5" cy="1151" r="9" fill="#1f1f1f"/>

<!-- LABELS -->
<g fill="#7b80c0" stroke="#7378b6" stroke-width="0.8">
  <rect x="399" y="423.5" width="166.5" height="47" rx="15"/>
  <rect x="33.5" y="543.5" width="275.5" height="47.5" rx="16"/>
  <rect x="571" y="681.5" width="279.5" height="79" rx="17"/>
  <rect x="47.5" y="831" width="194" height="47.5" rx="16"/>
  <rect x="238" y="976" width="134.5" height="46" rx="16"/>
  <rect x="691" y="1142.5" width="185" height="47" rx="16"/>
  <rect x="281" y="1425" width="185" height="46.5" rx="16"/>
</g>
<g class="lbl">
  <text class="lbl" x="420.5" y="453.5">Lampshade</text>
  <text class="lbl" x="47.5" y="574">Freely Adjustable Hose</text>
  <text class="lbl" x="622" y="716">UV Light Source</text>
  <text class="lbl" x="609" y="744">Wavelength: 365nm</text>
  <text class="lbl" x="73" y="863.5">USB Interface</text>
  <text class="lbl" x="260" y="1008">ON/OFF</text>
  <text class="lbl" x="711.5" y="1174.5">Securing Clip</text>
  <text class="lbl" x="304.5" y="1456.5">Power Cable</text>
</g>

<!-- CONNECTORS -->
<g fill="none" stroke="#64688f" stroke-width="2">
  <polyline points="481,470 481,500.5 631,500.5"/>
  <polyline points="171,591 171,687 395,687"/>
  <polyline points="709.5,518 709.5,681.5"/>
  <polyline points="138,878.5 138,977"/>
  <polyline points="308,1022 308,1122 176,1122"/>
  <polyline points="786.5,1189.5 786.5,1289 628,1289"/>
  <polyline points="215.5,1394 372,1394 372,1425"/>
</g>
<g>
  <g transform="translate(631 501)"><circle r="8.3" fill="#60648c"/><circle r="6.8" fill="#fcfcff"/><circle r="3.6" fill="#7c80b0"/></g>
  <g transform="translate(709.5 518)"><circle r="8.3" fill="#60648c"/><circle r="6.8" fill="#fcfcff"/><circle r="3.6" fill="#7c80b0"/></g>
  <g transform="translate(395 687.5)"><circle r="8.3" fill="#60648c"/><circle r="6.8" fill="#fcfcff"/><circle r="3.6" fill="#7c80b0"/></g>
  <g transform="translate(137.5 977)"><circle r="8.3" fill="#60648c"/><circle r="6.8" fill="#fcfcff"/><circle r="3.6" fill="#7c80b0"/></g>
  <g transform="translate(176 1122)"><circle r="8.3" fill="#60648c"/><circle r="6.8" fill="#fcfcff"/><circle r="3.6" fill="#7c80b0"/></g>
  <g transform="translate(627.5 1289)"><circle r="8.3" fill="#60648c"/><circle r="6.8" fill="#fcfcff"/><circle r="3.6" fill="#7c80b0"/></g>
  <g transform="translate(215.5 1393)"><circle r="8.3" fill="#60648c"/><circle r="6.8" fill="#fcfcff"/><circle r="3.6" fill="#7c80b0"/></g>
</g>

</svg>
</body></html>
